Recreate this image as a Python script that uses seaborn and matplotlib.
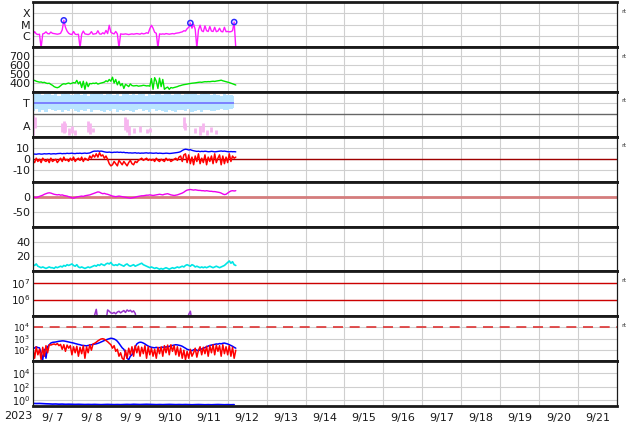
import numpy as np
import seaborn as sns
import matplotlib.pyplot as plt
import matplotlib.transforms as mtransforms
from matplotlib.ticker import NullLocator

# all series are hourly samples starting 2023-09-06 00UT (x axis in days)

# GOES X-ray flux, in units of 1e-6 W/m2 (C1 = 1)
xray_c = [1.5, 2.5, 1.6, 1.4, 1.5, 0.1,
          1.6, 1.8, 2.4, 1.7, 1.6, 2.3, 1.8, 1.7, 1.6, 1.5, 1.6, 1.8, 3.5, 24,
          6, 2.8, 1.8, 1.5, 1.4, 2.6, 1.5, 1.4, 1.5, 0.1,
          1.5, 2.8, 1.6, 1.5, 1.4, 1.6, 2.5, 1.5, 1.6, 1.7, 3.0, 1.6, 1.5, 2.0, 1.6, 3.2,
          1.7, 9, 2.2, 1.8, 1.6, 2.6, 1.6, 0.1,
          1.6, 1.5, 1.5, 1.6, 1.5, 1.4, 1.5, 1.6, 1.5, 1.6, 1.7, 1.6, 1.5, 1.8, 1.6, 1.7,
          2.0, 1.8, 4.5, 9, 5, 2.2, 1.8, 0.1,
          1.6, 1.5, 1.6, 1.5, 1.7, 1.6, 1.5, 1.6, 1.7, 1.6, 1.8, 1.9, 2.0, 2.2, 2.4, 3.0,
          2.8, 4.5, 6, 14, 5, 11, 4, 0.1,
          3.5, 9, 3.0, 2.5, 8, 3, 2.6, 7, 2.8, 2.6, 6, 2.5, 2.8, 5, 2.6, 2.4, 6, 2.5,
          2.6, 2.4, 2.5, 3, 17, 0.1]
flare_hour = [19, 97, 124]
flare_c = [24, 14, 17]

# solar wind speed km/s
speed = [425, 430, 420, 415, 410, 412, 405, 408, 400, 395, 398,
         385, 375, 360, 352, 348, 355,
         370, 385, 392, 388, 395, 400, 392, 398, 405, 400,
         430, 390, 415, 350, 420, 330, 410, 360, 395,
         392, 398, 395, 402, 388, 395, 400, 405, 410,
         425, 415, 440, 420, 465, 400, 440, 380, 420,
         370, 395, 340, 385, 375, 360, 390, 372, 368,
         370, 372, 365, 368, 370, 375, 372, 368, 370, 365,
         450, 330, 460, 420, 340, 455, 360, 440, 330,
         345, 355, 330, 350, 345, 350,
         355, 360, 368, 372, 378, 382, 385, 388, 392,
         395, 398, 400, 402, 405, 408, 410, 408, 412, 415, 414, 416, 415, 418, 420,
         418, 422, 425, 428, 432, 425, 420, 415, 410, 405, 398, 392, 385, 378]

# IMF sector: toward (T) spread, 2-hourly, axis units
sector_hi = [0.97, 0.95, 0.98, 0.93, 0.96, 0.99, 0.94, 0.97, 0.92, 0.95,
             0.98, 0.96, 0.93, 0.95, 0.97, 0.94, 0.96, 0.92, 0.95, 0.97,
             0.99, 0.96, 0.93, 0.95, 0.98, 0.94, 0.96, 0.92, 0.95, 0.97,
             0.93, 0.96, 0.94, 0.98, 0.95, 0.92, 0.96, 0.94, 0.97, 0.95,
             0.93, 0.96, 0.98, 0.94, 0.95, 0.97, 0.93, 0.96, 0.99, 0.95,
             0.97, 0.94, 0.96, 0.98, 0.95, 0.93, 0.96, 0.94, 0.92, 0.95,
             0.93, 0.94, 0.92]
sector_lo = [0.58, 0.62, 0.56, 0.60, 0.55, 0.63, 0.59, 0.57, 0.61, 0.56,
             0.60, 0.58, 0.62, 0.57, 0.55, 0.60, 0.58, 0.63, 0.56, 0.59,
             0.61, 0.57, 0.55, 0.60, 0.58, 0.62, 0.56, 0.59, 0.57, 0.61,
             0.58, 0.55, 0.60, 0.63, 0.57, 0.59, 0.56, 0.62, 0.58, 0.60,
             0.57, 0.55, 0.61, 0.58, 0.56, 0.60, 0.59, 0.57, 0.62, 0.55,
             0.58, 0.60, 0.56, 0.59, 0.61, 0.57, 0.58, 0.60, 0.62, 0.59,
             0.61, 0.63, 0.64]
# away (A) episodes
away_hour = [0, 1, 18, 19, 20, 22, 24, 26, 34, 35, 37, 57, 58, 59, 62, 66, 70, 72,
             93, 94, 100, 103, 105, 107, 110, 113]
away_lo = [0.05, 0.20, 0.10, 0.08, 0.10, 0.05, 0.08, 0.05, 0.10, 0.06, 0.10, 0.15, 0.10,
           0.05, 0.08, 0.10, 0.08, 0.10, 0.20, 0.15, 0.08, 0.05, 0.10, 0.05, 0.10, 0.06]
away_hi = [0.48, 0.45, 0.30, 0.35, 0.32, 0.20, 0.25, 0.15, 0.35, 0.30, 0.20, 0.45, 0.40,
           0.25, 0.20, 0.25, 0.18, 0.20, 0.45, 0.30, 0.20, 0.25, 0.30, 0.15, 0.22, 0.15]

# IMF Bt and Bz (nT)
bt = [4.5, 4.8, 4.6, 4.9, 5.0, 4.7, 4.8, 5.1, 4.9, 5.0, 5.2, 4.8, 5.0, 5.1, 4.9, 5.2, 5.3,
      5.4, 5.1, 5.3, 5.2, 5.5, 5.3, 5.4, 5.6, 5.3, 5.2, 5.5, 5.4, 5.6, 5.3, 5.5, 5.7, 5.4,
      5.6, 5.8, 6.5, 7.2, 7.5,
      7.4, 7.6, 7.3, 7.5, 7.2, 6.8, 6.5, 6.4, 6.6, 6.3,
      6.2, 6.5, 6.4, 6.6, 6.3, 6.5, 6.2, 6.4, 6.0, 6.1, 5.8, 5.9, 5.7, 5.8, 6.0, 5.6, 5.8,
      5.5, 5.7, 5.6, 5.8, 5.9, 5.6, 5.8,
      5.7, 5.5, 5.6, 5.8, 5.4, 5.6, 5.5, 5.3, 5.4, 5.6, 5.5, 5.3, 5.4, 5.6, 5.8, 6.0, 6.2,
      6.5, 7.0, 8.0, 8.8, 9.2,
      9.0, 8.5, 8.8, 8.2, 7.8, 7.5, 7.2, 7.4, 7.0, 7.3, 7.1, 7.4, 7.2, 6.9, 7.0, 7.3, 7.1,
      6.8, 7.0, 7.2, 7.4, 7.6, 7.3, 7.5, 7.2, 7.0, 6.8, 7.1, 6.9, 7.0, 6.8]
bz = [-1, -3, 1, -2, 0, -3, 1, -1, -2, 0, -3, 1, -2, -1, 0, -3, -1,
      1, -2, 2, -1, 0, -2, 1, -1, 2, -2, 0, 1, -1, 2, -2, 1, 0, -1, 3, 1, 4, 2,
      5, 2, 6, 3, 4, 1, 3, 0, -4, -6,
      -5, -2, -4, -6, -1, -3, -5, -2, -4, -6, -3, -1, -4, -5, -2, -3, -1, 0, 1, -1,
      0, 1, -1, 0,
      -1, 0, -2, 1, -1, -2, 0, -1, -2, 1, -1, 0, -2, -1, 0, 1, -1, 2, 3, -2, 4, 5,
      -3, 4, -4, 2, -5, 3, -2, 5, -4, 1, -3, 4, -5, 2, -2, 3, -4, 5, -3, 1,
      4, -5, 3, -4, 2, -3, 5, -2, 3, 1, 2]

# Dst (nT)
dst = [0, -2, -3, -1, 1, 3, 5, 8, 10, 12, 13, 12, 10, 8,
       7, 6, 7, 5, 6, 4, 3, 2, 0, -2, -4, -5, -3,
       -1, 0, 1, 2, 1, 3, 4, 5, 6, 8, 10, 12, 14, 16, 15,
       12, 10, 11, 9, 8, 6, 4, 2, 1, 0, 1, 2, 1, 0, -1, -2, -3, -4,
       -5, -4, -3, -2, 0, 1,
       2, 3, 3, 4, 5, 5, 6, 5, 4, 5, 6, 7, 8, 7, 6, 8, 9, 10, 8, 6, 5, 4, 5, 6, 8,
       10, 12, 15, 19, 22, 23, 24, 23, 22, 23, 22, 21,
       21, 20, 20, 19, 20, 19, 18, 18, 17, 17, 16, 15, 14, 12, 9,
       7, 8, 12, 16, 19, 20, 19, 20]

# solar wind density (/cc)
density = [9, 8, 10, 7, 6,
           5, 6, 5, 4, 5, 6, 5, 5, 4, 6, 5, 6, 7, 6, 8, 7, 9, 8,
           9, 10, 8, 7, 9, 6, 5, 6, 5, 4, 5, 6, 5,
           6, 7, 8, 7, 9, 8, 10, 9, 8, 10, 11, 10, 12, 9, 8,
           9, 8, 10, 9, 8, 7, 9, 10, 8, 7, 8, 9, 7, 8, 9, 10,
           11, 9, 8, 7, 6, 5, 6, 5, 4,
           5, 4, 3, 4, 3, 4, 5, 4, 3, 4, 5, 4, 5, 6, 5, 6, 7, 6, 8,
           9, 8, 7, 9, 8, 6, 7, 6, 5, 6, 5,
           6, 5, 6, 7, 6, 5, 6, 7, 6, 5, 6, 7, 8, 10, 12, 14, 11, 13, 9, 8]

# >2MeV electron flux, units of 1e5
electron = [0.5, 0.5, 0.5, 0.5, 0.5, 0.5, 0.5, 0.5, 0.5, 0.5,
            0.5, 0.5, 0.5, 0.5, 0.5, 0.5, 0.5, 1.05, 0.5, 0.5,
            0.5, 0.5, 0.5, 0.5, 0.5, 0.5, 0.5, 0.5, 0.5, 0.5,
            0.5, 0.5, 0.5, 0.5, 0.5, 0.5, 0.5, 0.5, 1.2, 2.6,
            0.5, 0.5, 0.5, 0.5, 0.5, 0.5, 2.4, 2.0, 1.6, 1.5,
            1.7, 1.4, 1.8, 2.0, 1.6, 1.9, 2.2, 1.7, 2.4, 2.0,
            2.3, 1.8, 2.1, 1.5, 0.5, 0.5, 0.5, 0.5, 0.5, 0.5,
            0.5, 0.5, 0.5, 0.5, 0.5, 0.5, 0.5, 0.5, 0.5, 0.5,
            0.5, 0.5, 0.5, 0.5, 0.5, 0.5, 0.5, 1.05, 1.05, 0.5,
            0.5, 0.5, 0.5, 0.5, 0.5, 0.5, 1.3, 2.0, 0.5, 0.5,
            0.5, 0.5, 0.5, 0.5, 0.5, 0.5, 0.5, 0.5, 0.5, 0.5,
            0.5, 0.5, 0.5, 0.5, 1.05, 0.5, 0.5, 0.5, 0.5, 0.5,
            0.5, 0.5, 0.5, 0.5, 0.5, 0.5]

# particle flux, two channels
flux_blue = [180, 150, 200, 170, 160,
             60, 15, 120, 20, 200, 300,
             420, 480, 500, 520, 560, 600, 620, 650, 640, 600, 560, 520, 480, 450, 420, 380,
             350, 320, 300, 270, 260, 250, 240, 260, 280, 300, 320,
             340, 360, 400, 450, 520, 600, 700, 800, 900, 1000,
             1100, 1050, 950, 800, 600, 400, 250, 160, 120,
             60, 20, 15, 30, 40, 80, 200,
             350, 450, 500, 480, 420, 350, 280, 230, 200, 180,
             170, 160, 180, 150, 170, 160, 190, 170, 200, 180, 220, 240, 260,
             280, 300, 290, 270, 250, 220, 180, 150,
             120, 110, 100, 90, 110, 120, 100, 90, 110, 130, 150,
             170, 200, 230, 260, 280, 300, 320, 350, 340, 380, 360, 400, 420, 380, 350,
             300, 260, 220, 180, 150]
flux_red = [150, 20, 200, 40, 120, 15, 180, 30, 250, 60, 300,
            280, 320, 350, 300, 380, 250, 320, 120, 300, 80, 280, 150, 250, 40, 200, 60,
            220, 30, 180, 50, 250, 20, 200, 60, 300, 100, 350,
            400, 500, 650, 800, 950, 1000, 900, 700, 550, 400,
            300, 150, 250, 80, 120, 30, 60, 20, 15,
            100, 20, 150, 40, 200, 30, 250,
            60, 220, 30, 180, 50, 250, 20, 200, 40, 150,
            30, 120, 20, 180, 50, 200, 30, 250, 60, 280, 40, 300, 80,
            250, 40, 200, 30, 150, 20, 100, 15,
            80, 20, 120, 30, 60, 150, 25, 100, 200, 40, 180,
            50, 220, 30, 250, 60, 300, 40, 280, 80, 250, 30, 300, 50, 200, 40, 250,
            30, 180, 20, 100]

# bottom panel, 2-hourly
flux_low = [0.38, 0.36, 0.37, 0.35, 0.33, 0.32, 0.30, 0.31, 0.29, 0.30,
            0.28, 0.29, 0.28, 0.27, 0.28, 0.27, 0.26, 0.27, 0.26, 0.27,
            0.26, 0.25, 0.26, 0.27, 0.26, 0.25, 0.26, 0.25, 0.26, 0.27,
            0.26, 0.28, 0.27, 0.26, 0.27, 0.28, 0.27, 0.26, 0.25, 0.26,
            0.25, 0.26, 0.27, 0.26, 0.25, 0.26, 0.25, 0.26, 0.25, 0.24,
            0.25, 0.26, 0.25, 0.24, 0.25, 0.24, 0.25, 0.26, 0.25, 0.24,
            0.25, 0.24, 0.25]

day_labels = ['9/ 7', '9/ 8', '9/ 9', '9/10', '9/11', '9/12', '9/13', '9/14',
              '9/15', '9/16', '9/17', '9/18', '9/19', '9/20', '9/21']


def hours(vals, step=1):
    return np.arange(len(vals)) * step / 24.0


sns.set_style("whitegrid")
plt.rcParams['font.family'] = ['DejaVu Sans']
plt.rcParams['axes.unicode_minus'] = False

fig, axes = plt.subplots(9, 1, figsize=(6.34, 4.24), dpi=100, sharex=True)
fig.subplots_adjust(left=33 / 634, right=617 / 634, top=1 - 2.3 / 424,
                    bottom=1 - 406 / 424, hspace=0)


def style(ax, rt=False, size=8):
    ax.set_facecolor('white')
    for s in ['top', 'bottom']:
        ax.spines[s].set_color('#1a1a1a')
        ax.spines[s].set_linewidth(2.0)
    for s in ['left', 'right']:
        ax.spines[s].set_color('#1a1a1a')
        ax.spines[s].set_linewidth(0.9)
    ax.tick_params(axis='y', which='both', length=0, labelsize=size, pad=2,
                   colors='#1a1a1a')
    ax.set_ylabel('')
    if rt:
        ax.text(1.007, 1 - 9 / 45, 'rt', transform=ax.transAxes, fontsize=4.5,
                va='center', ha='left', color='#333333')


# 1: X-ray
ax = axes[0]
sns.lineplot(x=hours(xray_c), y=xray_c, ax=ax, color='#ff1aff', lw=1)
ax.scatter(np.array(flare_hour) / 24, flare_c, s=14, facecolors='none',
           edgecolors='#2b2bff', linewidths=1.1, zorder=5)
ax.set_yscale('log')
ax.set_ylim(10 ** -0.95, 10 ** 2.95)
ax.set_yticks([1, 10, 100], ['C', 'M', 'X'])
ax.yaxis.set_minor_locator(NullLocator())
style(ax, rt=True)

# 2: speed
ax = axes[1]
sns.lineplot(x=hours(speed), y=speed, ax=ax, color='#00e600', lw=1)
ax.set_ylim(300, 800)
ax.set_yticks([400, 500, 600, 700])
style(ax, rt=True)

# 3: sector
ax = axes[2]
ts = hours(sector_hi, 2)
ax.fill_between(ts, sector_lo, sector_hi, step='mid', color='#b8e4ff', lw=0)
ax.vlines(np.array(away_hour) / 24, away_lo, away_hi, color='#f7b5ef', lw=2)
ax.hlines(0.75, ts[0], ts[-1], color='#7070ff', lw=1.2)
ax.axhline(0.5, color='#666666', lw=1)
ax.set_ylim(0, 1)
ax.set_yticks([0.25, 0.75], ['A', 'T'])
style(ax, rt=True)

# 4: Bt / Bz
ax = axes[3]
ax.axhline(0, color='#a00000', lw=1)
sns.lineplot(x=hours(bt), y=bt, ax=ax, color='#0000ff', lw=1)
sns.lineplot(x=hours(bz), y=bz, ax=ax, color='#ff0000', lw=1.1)
ax.set_ylim(-20.5, 20.5)
ax.set_yticks([-10, 0, 10])
style(ax, rt=True)

# 5: Dst
ax = axes[4]
ax.axhline(0, color='#d47c7c', lw=2)
sns.lineplot(x=hours(dst), y=dst, ax=ax, color='#ee00ee', lw=1)
ax.set_ylim(-100, 50)
ax.set_yticks([-50, 0])
style(ax)

# 6: density
ax = axes[5]
sns.lineplot(x=hours(density), y=density, ax=ax, color='#00e5e5', lw=1.2)
ax.set_ylim(0, 60)
ax.set_yticks([20, 40])
style(ax)

# 7: electrons
ax = axes[6]
ax.axhline(1e6, color='#cc0000', lw=1)
ax.axhline(1e7, color='#cc0000', lw=1)
sns.lineplot(x=hours(electron), y=np.array(electron) * 1e5, ax=ax, color='#9933cc', lw=1.1)
ax.set_yscale('log')
ax.set_ylim(1e5, 10 ** 7.68)
ax.set_yticks([1e6, 1e7])
ax.yaxis.set_minor_locator(NullLocator())
style(ax, rt=True, size=7.5)

# 8: protons
ax = axes[7]
ax.axhline(1e4, color='#dd3333', lw=1.2, dashes=(6, 4))
sns.lineplot(x=hours(flux_blue), y=flux_blue, ax=ax, color='#0000ff', lw=1.1)
sns.lineplot(x=hours(flux_red), y=flux_red, ax=ax, color='#ff0000', lw=1.1)
ax.set_yscale('log')
ax.set_ylim(10 ** 1.05, 10 ** 4.95)
ax.set_yticks([1e2, 1e3, 1e4])
ax.yaxis.set_minor_locator(NullLocator())
style(ax, rt=True, size=6.5)

# 9: low flux
ax = axes[8]
sns.lineplot(x=hours(flux_low, 2), y=flux_low, ax=ax, color='#0000ff', lw=1.2)
ax.set_yscale('log')
ax.set_ylim(10 ** -0.8, 10 ** 5.7)
ax.set_yticks([1, 1e2, 1e4])
ax.yaxis.set_minor_locator(NullLocator())
style(ax, size=7)

# shared time axis: grid at day boundaries, labels at mid-day
ax.set_xlim(0, 15)
ax.set_xticks(np.arange(1, 15))
ax.set_xticklabels([])
ax.set_xticks(np.arange(15) + 0.5, minor=True)
ax.set_xticklabels(day_labels, minor=True)
for a in axes:
    a.grid(False, which='both')
    a.xaxis.grid(True, which='major', color='#cfcfcf', lw=0.8)
    a.yaxis.grid(True, which='major', color='#cfcfcf', lw=0.8)
    a.tick_params(axis='x', which='both', length=0, pad=5, labelsize=8, colors='#1a1a1a')
for a in axes[:-1]:
    a.tick_params(axis='x', which='both', labelbottom=False)
trans = mtransforms.blended_transform_factory(ax.transData, ax.transAxes)
ax.text(-0.39, -0.11, '2023', transform=trans, ha='center', va='top', fontsize=8,
        color='#1a1a1a')

fig.savefig('out.png', dpi=100)
